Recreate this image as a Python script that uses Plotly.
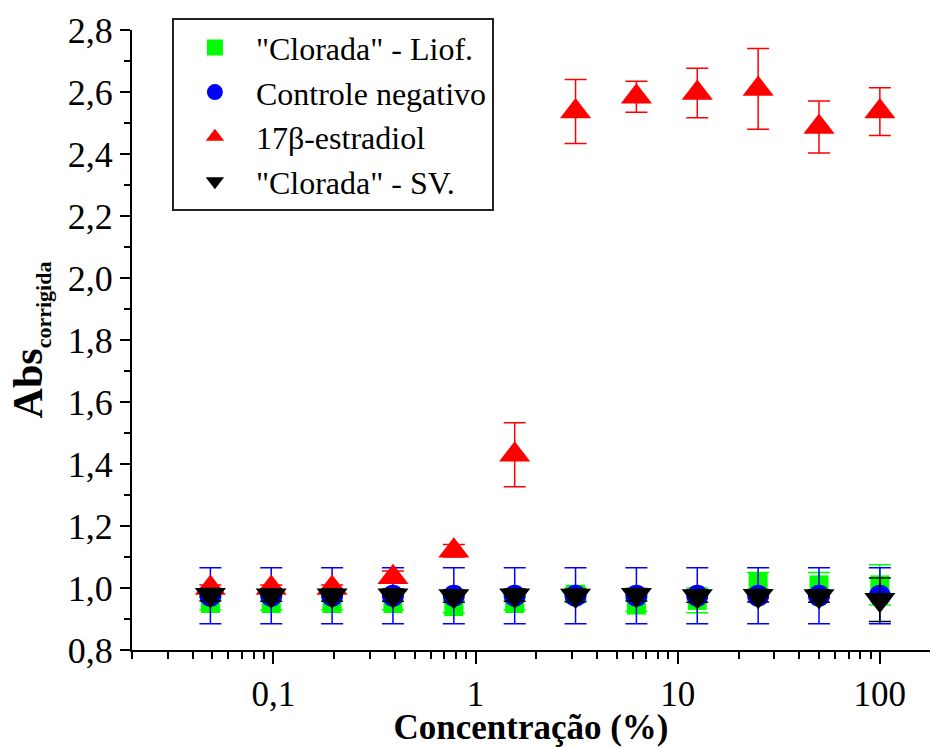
import plotly.graph_objects as go

# Concentrations (%)
conc = [0.048828125, 0.09765625, 0.1953125, 0.390625, 0.78125, 1.5625,
        3.125, 6.25, 12.5, 25, 50, 100]

# "Clorada" - Liof.
liof = [0.95, 0.95, 0.95, 0.95, 0.94, 0.95, 0.98, 0.945, 0.96, 1.02, 1.01, 1.01]
liof_err = [0.02, 0.02, 0.02, 0.02, 0.02, 0.02, 0.02, 0.02, 0.04, 0.03, 0.04, 0.065]

# Controle negativo
ctrl = [0.975, 0.975, 0.975, 0.975, 0.975, 0.975, 0.975, 0.975, 0.975, 0.975, 0.975, 0.975]
ctrl_err = [0.09, 0.09, 0.09, 0.09, 0.09, 0.09, 0.09, 0.09, 0.09, 0.09, 0.09, 0.09]

# 17β-estradiol
estr = [1.00, 1.00, 1.00, 1.035, 1.12, 1.43, 2.537, 2.585, 2.597, 2.61, 2.487, 2.537]
estr_err = [0.01, 0.01, 0.01, 0.02, 0.02, 0.103, 0.103, 0.05, 0.08, 0.13, 0.084, 0.077]

# "Clorada" - SV.
sv = [0.978, 0.977, 0.977, 0.977, 0.974, 0.977, 0.976, 0.978, 0.974, 0.975, 0.974, 0.962]
sv_err = [0.02, 0.02, 0.02, 0.02, 0.02, 0.02, 0.02, 0.02, 0.02, 0.02, 0.02, 0.07]

x_tickvals = [0.1, 1, 10, 100]
x_ticktext = ["0,1", "1", "10", "100"]

FONT = "Liberation Serif, Times New Roman, Times, serif"

fig = go.Figure()

def add(name, y, err, color, symbol, size):
    fig.add_trace(go.Scatter(
        x=conc, y=y, name=name, mode="markers",
        marker=dict(color=color, symbol=symbol, size=size, line=dict(width=0)),
        error_y=dict(type="data", array=err, visible=True, color=color,
                     thickness=1.5, width=11),
    ))

add('"Clorada" - Liof.', liof, liof_err, "#00FF00", "square", 19)
add("Controle negativo", ctrl, ctrl_err, "#0000FF", "circle", 22)
add("17β-estradiol", estr, estr_err, "#FF0000", "triangle-up", 27)
add('"Clorada" - SV.', sv, sv_err, "#000000", "triangle-down", 27)

fig.update_layout(
    template="none",
    width=931, height=747,
    margin=dict(l=132, r=1, t=30, b=97, pad=0),
    paper_bgcolor="white", plot_bgcolor="white",
    separators=",.",
    font=dict(family=FONT, color="black", size=34),
    showlegend=True,
    legend=dict(
        x=0.05, y=1.019, xanchor="left", yanchor="top",
        bgcolor="white", bordercolor="#222222", borderwidth=2,
        font=dict(family=FONT, size=32, color="black"),
        itemsizing="trace", itemwidth=72,
    ),
    xaxis=dict(
        type="log", range=[-1.699, 2.248],
        tickmode="array", tickvals=x_tickvals, ticktext=x_ticktext,
        ticks="outside", ticklen=12, tickwidth=2, tickcolor="black",
        minor=dict(ticks="outside", ticklen=7, tickwidth=2, tickcolor="black",
                   dtick="D1", showgrid=False),
        showline=True, linewidth=2, linecolor="black",
        showgrid=False, zeroline=False,
        tickfont=dict(family=FONT, size=35, color="black"),
        title=dict(text="<b>Concentração (%)</b>",
                   font=dict(family=FONT, size=35, color="black"), standoff=13),
    ),
    yaxis=dict(
        range=[0.8, 2.8], tick0=0.8, dtick=0.2, tickformat=".1f",
        ticks="outside", ticklen=10, tickwidth=2, tickcolor="black",
        minor=dict(ticks="outside", ticklen=6, tickwidth=2, tickcolor="black",
                   dtick=0.1, showgrid=False),
        showline=True, linewidth=2, linecolor="black",
        showgrid=False, zeroline=False,
        tickfont=dict(family=FONT, size=36, color="black"),
        title=dict(text="<b>Abs<sub><span style='font-size:22px'>corrigida</span></sub></b>",
                   font=dict(family=FONT, size=42, color="black"), standoff=12),
    ),
)

fig.write_html("out.html")
